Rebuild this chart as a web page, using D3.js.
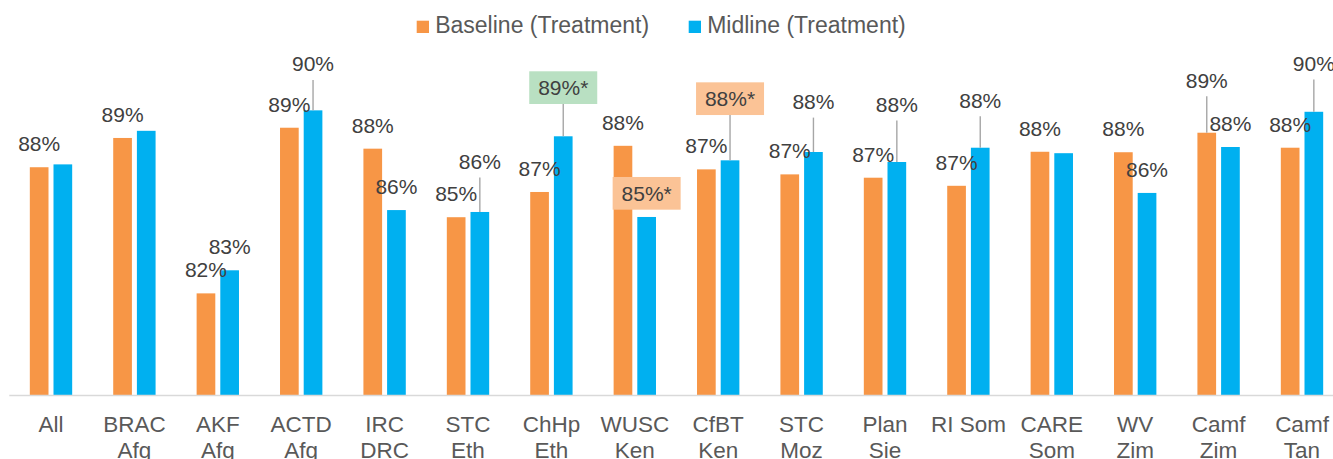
<!DOCTYPE html>
<html>
<head>
<meta charset="utf-8">
<script src="https://cdn.jsdelivr.net/npm/d3@7/dist/d3.min.js"></script>
<style>
  html, body { margin: 0; padding: 0; background: #ffffff; }
  svg { display: block; font-family: "Liberation Sans", Arial, sans-serif; }
</style>
</head>
<body>
<div id="chart"></div>
<script>
// ---------- DATA ----------
const categories = ["All", "BRAC\nAfg", "AKF\nAfg", "ACTD\nAfg", "IRC\nDRC", "STC\nEth", "ChHp\nEth",
  "WUSC\nKen", "CfBT\nKen", "STC\nMoz", "Plan\nSie", "RI Som", "CARE\nSom", "WV\nZim", "Camf\nZim", "Camf\nTan"];
const seriesNames = ["Baseline (Treatment)", "Midline (Treatment)"];
const baselineValues = [87.57, 88.80, 82.27, 89.23, 88.35, 85.47, 86.53, 88.47, 87.48, 87.27, 87.13, 86.79, 88.22, 88.20, 89.02, 88.39];
const midlineValues  = [87.69, 89.10, 83.24, 89.96, 85.77, 85.69, 88.87, 85.48, 87.86, 88.21, 87.79, 88.39, 88.16, 86.49, 88.42, 89.90];
const baselineLabels = ["88%", "89%", "82%", "89%", "88%", "85%", "87%", "88%", "87%", "87%", "87%", "87%", "88%", "88%", "89%", "88%"];
const midlineLabels  = [null, null, "83%", "90%", "86%", "86%", "89%*", "85%*", "88%*", "88%", "88%", "88%", null, "86%", "88%", "90%"];
const midlineSignificance = [null, null, null, null, null, null, "up", "down", "down", null, null, null, null, null, null, null];

// ---------- LAYOUT / STYLE ----------
const W = 1333, H = 459;
const colors = ["#F79646", "#00B0F0"];
const boxColors = { up: "#B9E0C2", down: "#FBC396" };
// vertical lift (px) of labels that were moved up with leader lines
const baselineLift = [0, 0, 0, 0, 0, 0, 0, 0, 0, 0, 0, 0, 0, 0, 29, 0];
const midlineLift  = [0, 0, 0, 23, 0, 27, 25, 0, 38, 27, 34, 24, 0, 0, 0, 25];

const svg = d3.select("#chart").append("svg").attr("width", W).attr("height", H);

const x0 = d3.scaleBand().domain(d3.range(categories.length))
  .range([9.3, 1343.7]).paddingInner(0.492).paddingOuter(0.246);
const x1 = d3.scaleBand().domain([0, 1]).range([0, x0.bandwidth()]).paddingInner(0.211).paddingOuter(0);
const y = d3.scaleLinear().domain([78, 92]).range([395, 61.8]);

const series = [baselineValues, midlineValues];
const labels = [baselineLabels, midlineLabels];
const lifts = [baselineLift, midlineLift];

// bars
series.forEach((vals, s) => {
  svg.append("g").selectAll("rect").data(vals).join("rect")
    .attr("x", (d, i) => x0(i) + x1(s))
    .attr("y", d => y(d))
    .attr("width", x1.bandwidth())
    .attr("height", d => y.range()[0] - y(d))
    .attr("fill", colors[s]);
});

// axis line + category labels
const xAxis = d3.axisBottom(x0).tickSize(0).tickFormat("");
const axG = svg.append("g").attr("transform", "translate(0,395)").call(xAxis);
axG.select(".domain").attr("stroke", "#D9D9D9").attr("stroke-width", 1.5)
  .attr("d", `M9.3,0.5H${W}`);

axG.selectAll(".tick").each(function(d) {
  const t = d3.select(this).append("text")
    .attr("fill", "#595959").attr("font-size", 22.5).attr("text-anchor", "middle");
  categories[d].split("\n").forEach((line, k) => {
    t.append("tspan").attr("x", 0).attr("y", 36.7 + k * 26.5).text(line);
  });
});

// data labels
const lblG = svg.append("g");
series.forEach((vals, s) => {
  vals.forEach((v, i) => {
    const txt = labels[s][i];
    if (!txt) return;
    const cx = x0(i) + x1(s) + x1.bandwidth() / 2;
    const top = y(v);
    const base = top - 16 - lifts[s][i];
    const sig = s === 1 ? midlineSignificance[i] : null;
    if (lifts[s][i] > 0) {
      lblG.append("line")
        .attr("x1", cx).attr("x2", cx)
        .attr("y1", base + 8.6).attr("y2", top)
        .attr("stroke", "#A6A6A6").attr("stroke-width", 1.4);
    }
    if (sig) {
      lblG.append("rect")
        .attr("x", cx - 34).attr("y", base - 24)
        .attr("width", 68).attr("height", 32.7)
        .attr("fill", boxColors[sig]);
    }
    lblG.append("text")
      .attr("x", cx).attr("y", base)
      .attr("text-anchor", "middle")
      .attr("font-size", 21).attr("fill", "#404040")
      .text(txt);
  });
});

// legend
const legend = svg.append("g").attr("transform", "translate(416.7,0)");
const legendX = [0, 272];
seriesNames.forEach((name, s) => {
  const g = legend.append("g").attr("transform", `translate(${legendX[s]},0)`);
  g.append("rect").attr("x", 0).attr("y", 20.7).attr("width", 12.3).attr("height", 12.3).attr("fill", colors[s]);
  g.append("text").attr("x", 18.5).attr("y", 33.3).attr("font-size", 23).attr("fill", "#595959").text(name);
});
</script>
</body>
</html>
